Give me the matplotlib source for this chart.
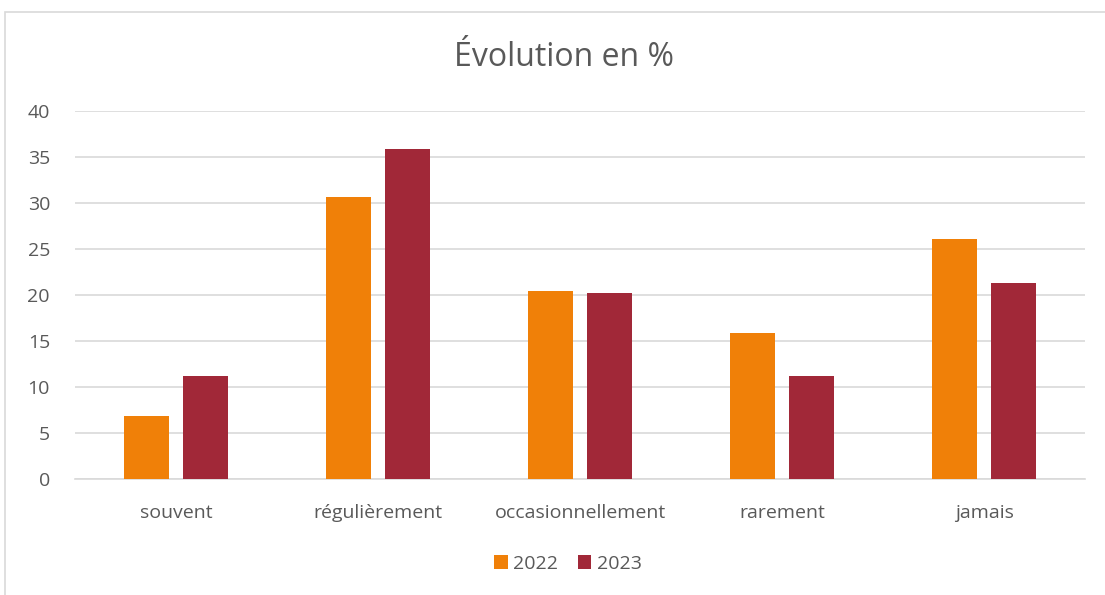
import matplotlib
matplotlib.use("Agg")
import matplotlib.pyplot as plt
import matplotlib.patches as mpatches
import numpy as np

plt.rcParams["font.family"] = ["Open Sans", "DejaVu Sans"]

# ── Data ──────────────────────────────────────────────────────────────────────
categories = ["souvent", "régulièrement", "occasionnellement", "rarement", "jamais"]
vals_2022 = [6.8, 30.6, 20.4, 15.9, 26.1]
vals_2023 = [11.2, 35.9, 20.2, 11.2, 21.3]
series_labels = ["2022", "2023"]
yticks = [0, 5, 10, 15, 20, 25, 30, 35, 40]

C2022 = "#f08008"
C2023 = "#a12838"
TXT = "#595959"
GRID = "#d9d9d9"

fig = plt.figure(figsize=(11.05, 5.95), dpi=100, facecolor="white")
ax = fig.add_axes([75 / 1105, 1 - 479 / 595, 1010 / 1105, 368 / 595])

# chart-area frame (left and top edges visible)
fig.patches.append(mpatches.Rectangle((5 / 1105, -0.05), 1.2, 1 - 12 / 595 + 0.05,
                                      transform=fig.transFigure, fill=False,
                                      edgecolor=GRID, linewidth=1.2))

x = np.arange(len(categories))
w = 0.223
off = 0.144
ax.bar(x - off, vals_2022, w, color=C2022, zorder=3, label=series_labels[0])
ax.bar(x + off, vals_2023, w, color=C2023, zorder=3, label=series_labels[1])

ax.set_xlim(-0.5, len(categories) - 0.5)
ax.set_ylim(0, 40)
ax.set_yticks(yticks)
ax.set_xticks(x)
ax.set_xticklabels(categories)
ax.tick_params(axis="both", length=0, labelsize=14, colors=TXT)
ax.tick_params(axis="x", pad=18)
ax.tick_params(axis="y", pad=18)

ax.yaxis.grid(True, color=GRID, linewidth=1.2, zorder=0)
ax.set_axisbelow(True)
for s in ["top", "right", "left"]:
    ax.spines[s].set_visible(False)
ax.spines["bottom"].set_color(GRID)
ax.spines["bottom"].set_linewidth(1.2)

fig.text(564 / 1105, 1 - 57 / 595, "Évolution en %", ha="center", va="center",
         fontsize=23, color=TXT)

leg = fig.legend(loc="center", bbox_to_anchor=(568 / 1105, 1 - 564 / 595), ncol=2,
                 frameon=False, fontsize=14, handlelength=0.7, handleheight=0.7,
                 handletextpad=0.3, columnspacing=1.0)
for t in leg.get_texts():
    t.set_color(TXT)

fig.savefig("out.png", dpi=100, facecolor="white")
